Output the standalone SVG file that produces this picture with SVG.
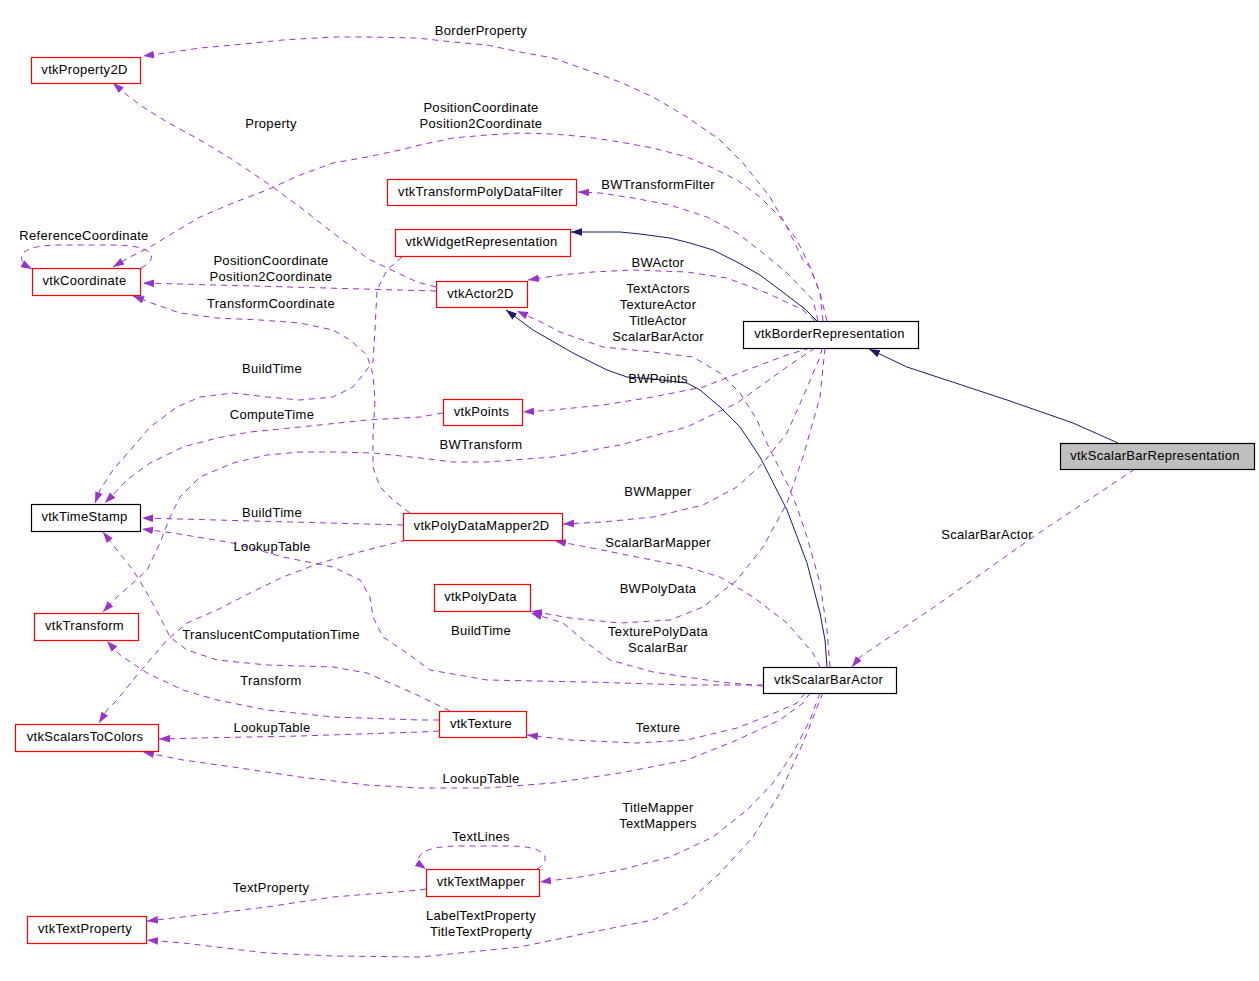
<svg xmlns="http://www.w3.org/2000/svg" width="1259" height="981" viewBox="0 0 1259 981">
<style>
.n rect{fill:#fff;stroke:#ff0000;stroke-width:1.2}
.b rect{stroke:#000}
.g rect{fill:#bfbfbf;stroke:#000}
text{font-family:"Liberation Sans",Arial,sans-serif;font-size:13px;letter-spacing:0.3px;text-anchor:middle;fill:#000}
.e{fill:none;stroke:#9a32cd;stroke-width:1;stroke-dasharray:6,5;marker-end:url(#ap)}
.i{fill:none;stroke:#191970;stroke-width:1;marker-end:url(#an)}
</style>
<defs>
<marker id="ap" viewBox="0 0 10 7" markerUnits="userSpaceOnUse" markerWidth="11" markerHeight="8" refX="10" refY="3.5" orient="auto"><path d="M0,0L10,3.5L0,7z" fill="#9a32cd" stroke="none"/></marker>
<marker id="an" viewBox="0 0 10 7" markerUnits="userSpaceOnUse" markerWidth="11" markerHeight="8" refX="10" refY="3.5" orient="auto"><path d="M0,0L10,3.5L0,7z" fill="#191970" stroke="none"/></marker>
</defs>
<rect width="1259" height="981" fill="#fff"/>
<g id="edges">
<path class="e" d="M827,321 L820,293 L810,267 L803,260 L787,227 L770,197 L743,163 L720,140 L687,117 L653,97 L620,82 L587,70 L553,58 L520,52 L487,45 L453,42 L417,38 L367,37 L333,37 L283,40 L233,45 L200,48 L173,52 L143,56"/>
<path class="e" d="M436,287 L417,282 L385,267 L367,258 L333,233 L300,207 L267,183 L233,160 L200,140 L167,122 L143,107 L127,95 L113,83"/>
<path class="e" d="M823,321 L820,293 L810,267 L797,240 L780,217 L760,197 L737,180 L713,168 L687,157 L653,148 L620,142 L587,137 L553,134 L520,133 L487,135 L453,138 L420,145 L400,150 L367,157 L333,163 L300,175 L267,190 L233,203 L200,217 L173,233 L150,247 L130,257 L113,267"/>
<path class="e" d="M141,268 C160,258 155,245 112,245 L60,245 C20,245 12,258 32,269"/>
<path class="e" d="M436,291 L143,283"/>
<path class="e" d="M410,513 L393,500 L380,487 L373,467 L373,437 L375,400 L373,375 L367,355 L350,340 L333,330 L300,323 L260,320 L217,318 L180,313 L157,305 L133,296"/>
<path class="e" d="M818,321 L813,300 L787,273 L763,253 L737,233 L707,217 L670,205 L633,198 L600,193 L578,192"/>
<path class="i" d="M817,321 L805,309 L780,290 L760,275 L737,262 L713,250 L690,243 L670,238 L640,234 L620,232 L571,232"/>
<path class="e" d="M815,321 L803,310 L767,293 L727,278 L687,272 L633,270 L593,272 L560,275 L528,280"/>
<path class="e" d="M830,667 L827,630 L820,583 L807,537 L797,507 L787,483 L770,450 L757,420 L740,393 L720,373 L693,357 L653,352 L603,347 L560,332 L543,323 L517,311"/>
<path class="i" d="M827,667 L825,640 L820,613 L807,563 L787,510 L760,457 L740,427 L720,407 L700,390 L687,383 L653,379 L627,377 L607,370 L573,353 L533,330 L506,310"/>
<path class="e" d="M810,348 L787,355 L747,370 L703,387 L653,397 L603,405 L553,410 L523,412"/>
<path class="e" d="M815,348 L787,367 L737,403 L687,427 L620,445 L553,457 L487,462 L453,462 L420,458 L373,453 L333,452 L300,452 L267,455 L233,463 L200,477 L180,497 L170,517 L160,543 L147,570 L133,583 L117,597 L103,612"/>
<path class="e" d="M443,413 L420,417 L367,420 L300,427 L250,432 L217,438 L183,447 L150,463 L127,480 L105,503"/>
<path class="e" d="M402,257 L387,270 L377,290 L375,330 L373,362 L353,387 L333,397 L300,400 L267,397 L233,393 L200,397 L177,407 L150,427 L133,447 L113,470 L100,490 L95,503"/>
<path class="e" d="M403,525 L142,518"/>
<path class="e" d="M407,540 L367,550 L320,563 L283,577 L250,593 L217,610 L187,623 L167,640 L150,660 L133,680 L117,700 L107,710 L99,723"/>
<path class="e" d="M763,685 L687,685 L587,682 L487,680 L430,670 L407,653 L383,637 L373,617 L370,597 L360,580 L333,567 L283,557 L233,543 L173,533 L142,529"/>
<path class="e" d="M820,667 L813,653 L787,623 L753,597 L720,577 L687,567 L637,557 L587,547 L555,541"/>
<path class="e" d="M822,348 L820,357 L803,397 L787,433 L763,463 L737,487 L703,505 L653,517 L603,522 L563,524"/>
<path class="e" d="M825,348 L820,397 L803,457 L787,503 L763,547 L737,580 L703,607 L670,620 L620,623 L570,618 L531,611"/>
<path class="e" d="M763,686 L720,682 L653,672 L610,660 L587,643 L563,623 L531,613"/>
<path class="e" d="M450,711 L413,693 L367,673 L333,667 L267,665 L217,660 L187,650 L170,637 L160,617 L147,593 L133,570 L117,550 L103,532"/>
<path class="e" d="M439,720 L420,720 L333,717 L267,710 L217,700 L183,690 L147,673 L120,655 L107,641"/>
<path class="e" d="M439,731 L420,732 L300,736 L200,738 L159,739"/>
<path class="e" d="M810,693 L803,703 L780,720 L737,740 L687,760 L620,773 L553,783 L487,788 L420,788 L367,785 L300,777 L233,767 L183,760 L143,752"/>
<path class="e" d="M805,693 L797,703 L770,715 L737,728 L687,740 L637,743 L570,740 L527,735"/>
<path class="e" d="M820,693 L810,720 L793,753 L773,783 L747,810 L713,837 L670,857 L620,870 L580,877 L540,882"/>
<path class="e" d="M823,693 L820,700 L803,743 L780,793 L753,837 L720,873 L687,903 L653,920 L587,933 L520,947 L420,957 L333,956 L267,953 L183,943 L147,940"/>
<path class="e" d="M426,889 L420,890 L333,897 L267,907 L200,915 L147,921"/>
<path class="e" d="M537,869 C552,860 548,846 510,846 L460,846 C420,846 410,858 426,869"/>
<path class="i" d="M1118,443 L1073,423 L1007,400 L907,367 L869,349"/>
<path class="e" d="M1135,469 L1033,537 L940,603 L860,657 L852,667"/>
</g>
<g id="edge-labels">
<text x="481" y="35">BorderProperty</text>
<text x="271" y="128">Property</text>
<text x="481" y="112">PositionCoordinate</text>
<text x="481" y="128">Position2Coordinate</text>
<text x="658" y="189">BWTransformFilter</text>
<text x="84" y="240">ReferenceCoordinate</text>
<text x="271" y="265">PositionCoordinate</text>
<text x="271" y="281">Position2Coordinate</text>
<text x="658" y="267">BWActor</text>
<text x="271" y="308">TransformCoordinate</text>
<text x="658" y="293">TextActors</text>
<text x="658" y="309">TextureActor</text>
<text x="658" y="325">TitleActor</text>
<text x="658" y="341">ScalarBarActor</text>
<text x="272" y="373">BuildTime</text>
<text x="658" y="383">BWPoints</text>
<text x="272" y="419">ComputeTime</text>
<text x="481" y="449">BWTransform</text>
<text x="658" y="496">BWMapper</text>
<text x="272" y="517">BuildTime</text>
<text x="272" y="551">LookupTable</text>
<text x="658" y="547">ScalarBarMapper</text>
<text x="987" y="539">ScalarBarActor</text>
<text x="658" y="593">BWPolyData</text>
<text x="481" y="635">BuildTime</text>
<text x="658" y="636">TexturePolyData</text>
<text x="658" y="652">ScalarBar</text>
<text x="271" y="639">TranslucentComputationTime</text>
<text x="271" y="685">Transform</text>
<text x="272" y="732">LookupTable</text>
<text x="658" y="732">Texture</text>
<text x="481" y="783">LookupTable</text>
<text x="658" y="812">TitleMapper</text>
<text x="658" y="828">TextMappers</text>
<text x="481" y="841">TextLines</text>
<text x="271" y="892">TextProperty</text>
<text x="481" y="920">LabelTextProperty</text>
<text x="481" y="936">TitleTextProperty</text>
</g>
<g id="vtkProperty2D" class="n"><rect x="31.5" y="57.5" width="109" height="26"/><text x="84.5" y="74">vtkProperty2D</text></g>
<g id="vtkCoordinate" class="n"><rect x="32.5" y="268.5" width="108" height="27"/><text x="84.5" y="285">vtkCoordinate</text></g>
<g id="vtkTransformPolyDataFilter" class="n"><rect x="387.5" y="179.5" width="189" height="26"/><text x="480.5" y="196">vtkTransformPolyDataFilter</text></g>
<g id="vtkWidgetRepresentation" class="n"><rect x="395.5" y="229.5" width="175" height="27"/><text x="481.5" y="246">vtkWidgetRepresentation</text></g>
<g id="vtkActor2D" class="n"><rect x="436.5" y="281.5" width="91" height="26"/><text x="480.5" y="298">vtkActor2D</text></g>
<g id="vtkBorderRepresentation" class="n b"><rect x="743.5" y="321.5" width="175" height="27"/><text x="829.5" y="338">vtkBorderRepresentation</text></g>
<g id="vtkScalarBarRepresentation" class="n g"><rect x="1060.5" y="443.5" width="194" height="26"/><text x="1155" y="460">vtkScalarBarRepresentation</text></g>
<g id="vtkTimeStamp" class="n b"><rect x="31.5" y="504.5" width="109" height="27"/><text x="84.5" y="521">vtkTimeStamp</text></g>
<g id="vtkPoints" class="n"><rect x="443.5" y="399.5" width="79" height="26"/><text x="481.5" y="416">vtkPoints</text></g>
<g id="vtkPolyDataMapper2D" class="n"><rect x="403.5" y="513.5" width="159" height="27"/><text x="481.5" y="530">vtkPolyDataMapper2D</text></g>
<g id="vtkPolyData" class="n"><rect x="434.5" y="584.5" width="96" height="27"/><text x="480.5" y="601">vtkPolyData</text></g>
<g id="vtkTransform" class="n"><rect x="34.5" y="613.5" width="104" height="27"/><text x="84.5" y="630">vtkTransform</text></g>
<g id="vtkScalarBarActor" class="n b"><rect x="763.5" y="667.5" width="133" height="26"/><text x="828.5" y="684">vtkScalarBarActor</text></g>
<g id="vtkTexture" class="n"><rect x="439.5" y="711.5" width="87" height="26"/><text x="481" y="728">vtkTexture</text></g>
<g id="vtkScalarsToColors" class="n"><rect x="15.5" y="724.5" width="143" height="27"/><text x="85" y="741">vtkScalarsToColors</text></g>
<g id="vtkTextMapper" class="n"><rect x="426.5" y="869.5" width="113" height="27"/><text x="481" y="886">vtkTextMapper</text></g>
<g id="vtkTextProperty" class="n"><rect x="27.5" y="916.5" width="119" height="27"/><text x="85" y="933">vtkTextProperty</text></g>
</svg>
